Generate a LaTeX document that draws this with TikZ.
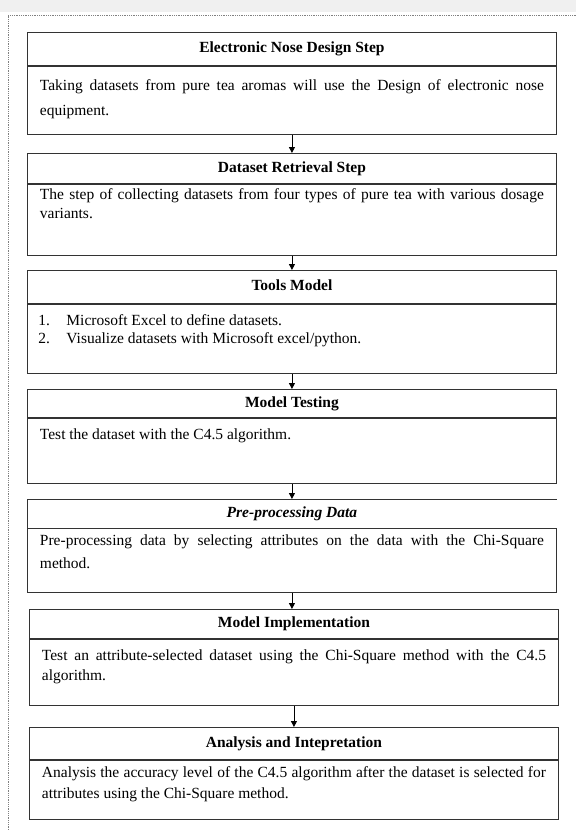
\documentclass[tikz,border=0pt]{standalone}
\usepackage{fontspec}
\setmainfont{Liberation Serif}
\usetikzlibrary{arrows.meta}

% body text of one step: height, first baseline, line skip, text
\newcommand{\stepbody}[4]{\parbox[t][#1pt][t]{504pt}{\fontsize{15.5}{#3}\selectfont
  \vspace*{\dimexpr #2pt-0.7\baselineskip\relax}\strut #4}}
\newcommand{\numitem}[1]{\makebox[28pt][l]{#1}}

\tikzset{
  titlebox/.style={draw=black!80, line width=.9pt, anchor=north west, inner sep=0pt,
    minimum width=529pt, minimum height=#1, text height=10.5pt, text depth=3pt,
    font={\fontsize{15.5}{19}\selectfont\bfseries}},
  bodybox/.style={draw=black!80, line width=.9pt, anchor=north west,
    inner xsep=12.5pt, inner ysep=0pt},
  flow/.style={black, line width=.9pt, -{Triangle[length=6pt,width=6pt]}},
  frame/.style={gray, line width=.8pt, densely dotted}
}

\begin{document}
\begin{tikzpicture}[x=1pt,y=-1pt]
\useasboundingbox (0,0) rectangle (576,830);
\fill[black!6] (0,0) rectangle (576,12);
\draw[frame] (8,830) -- (8,15) -- (576,15);

% steps
\node[titlebox=33pt] (t1) at (27,32) {Electronic Nose Design Step};
\node[bodybox] (b1) at (t1.south west) {\stepbody{68}{24}{25}{Taking datasets from pure tea aromas will use the Design of electronic nose\linebreak equipment.}};

\node[titlebox=30pt] (t2) at (27,153) {Dataset Retrieval Step};
\node[bodybox] (b2) at (t2.south west) {\stepbody{71}{15}{19}{The step of collecting datasets from four types of pure tea with various dosage\linebreak variants.}};

\node[titlebox=33pt] (t3) at (27,270) {Tools Model};
\node[bodybox] (b3) at (t3.south west) {\stepbody{69}{21}{18}{\hspace*{-1.5pt}\numitem{1.}Microsoft Excel to define datasets.\\
  \hspace*{-1.5pt}\numitem{2.}Visualize datasets with Microsoft excel/python.}};

\node[titlebox=28pt] (t4) at (27,389) {Model Testing};
\node[bodybox] (b4) at (t4.south west) {\stepbody{65}{21}{19}{Test the dataset with the C4.5 algorithm.}};

\node[titlebox=28pt, draw=none] (t5) at (27,499) {\textit{Pre-processing Data}};
\draw[black!80, line width=.9pt] (t5.south west) -- (t5.north west) -- (t5.north east);
\node[bodybox] (b5) at (t5.south west) {\stepbody{64}{17}{23}{Pre-processing data by selecting attributes on the data with the Chi-Square\linebreak method.}};

\node[titlebox=29pt] (t6) at (29,609) {Model Implementation};
\node[bodybox] (b6) at (t6.south west) {\stepbody{66}{21}{20}{Test an attribute-selected dataset using the Chi-Square method with the C4.5\linebreak algorithm.}};

\node[titlebox=32pt] (t7) at (29,727) {Analysis and Intepretation};
\node[bodybox] (b7) at (t7.south west) {\stepbody{59}{17}{21}{Analysis the accuracy level of the C4.5 algorithm after the dataset is selected for\linebreak attributes using the Chi-Square method.}};

% arrows
\foreach \a/\b in {b1/t2,b2/t3,b3/t4,b4/t5,b5/t6,b6/t7}
  \draw[flow] (\a.south) -- (\a.south |- \b.north);
\end{tikzpicture}
\end{document}
